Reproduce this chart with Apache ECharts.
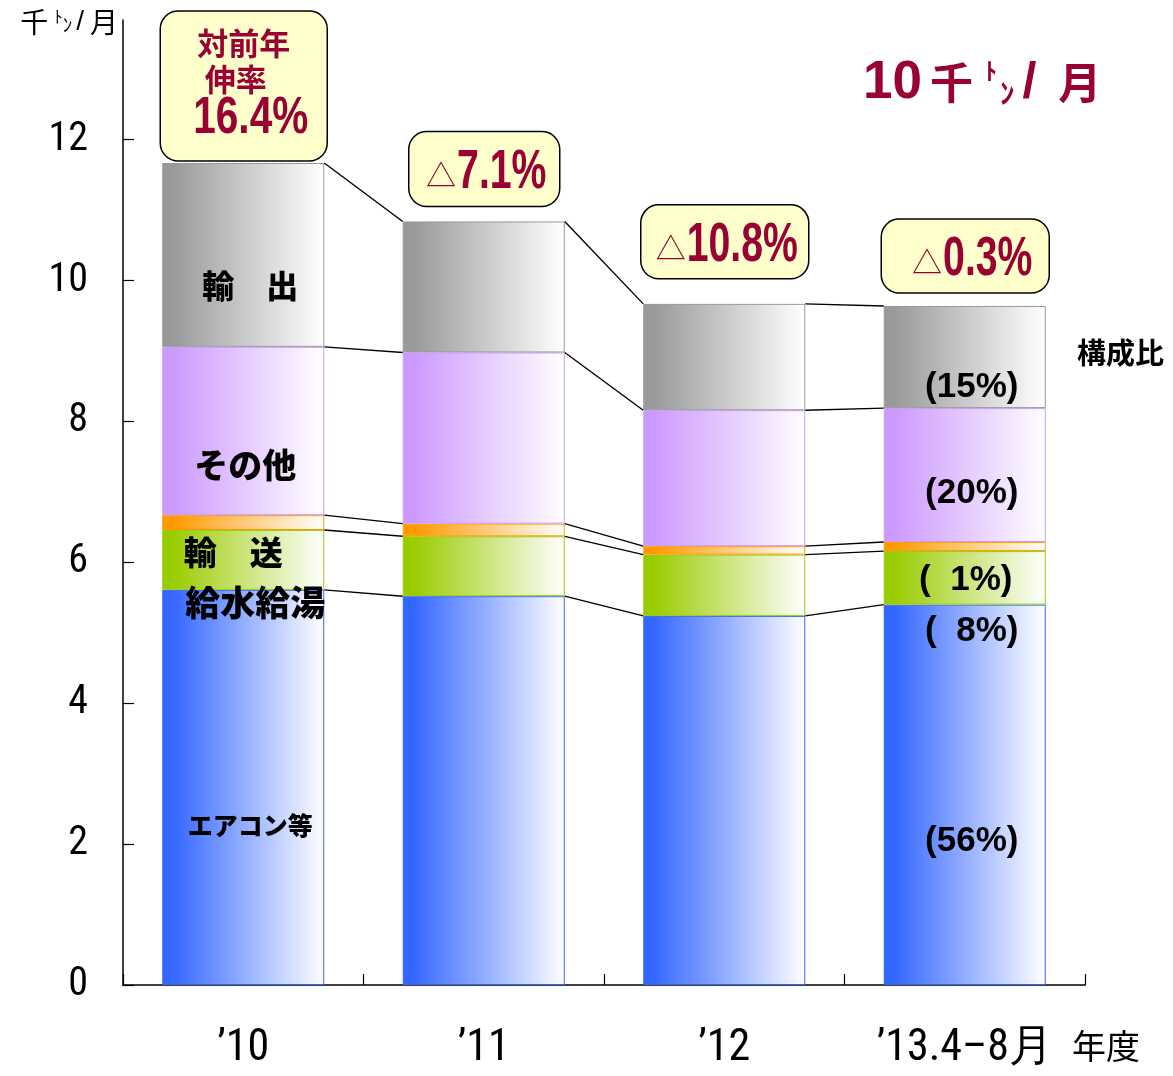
<!DOCTYPE html>
<html>
<head>
<meta charset="utf-8">
<script src="https://cdn.jsdelivr.net/npm/echarts@6/dist/echarts.min.js"></script>
<style>
  html, body { margin: 0; padding: 0; background: #ffffff; }
  #chart { width: 1173px; height: 1076px; }
</style>
</head>
<body>
<div id="chart"></div>
<script>
// Fiscal years on the category axis
const categories = ['’10', '’11', '’12', '’13.4–8月'];

// Monthly volume by use, thousand tonnes per month (stacked bottom to top)
const aircon      = [5.61, 5.52, 5.24, 5.40];   // エアコン等
const waterHeater = [0.85, 0.85, 0.87, 0.76];   // 給水給湯
const transport   = [0.21, 0.18, 0.12, 0.13];   // 輸送
const others      = [2.39, 2.43, 1.93, 1.90];   // その他
const exportsVol  = [2.61, 1.86, 1.51, 1.45];   // 輸出

// Year-on-year growth of the total, percent
const growthRates = [16.4, -7.1, -10.8, -0.3];

// Value axis ticks
const yTicks = [0, 2, 4, 6, 8, 10, 12];

const RED = '#990033';
const CJK = '"Noto Sans CJK JP", "Noto Sans CJK SC", sans-serif';
const NARROW = '"Roboto Condensed", "Liberation Sans Narrow", "DejaVu Sans Condensed", sans-serif';
const SANS = '"Liberation Sans", Arial, sans-serif';
const BAR_W = 162;

const stackSeries = [aircon, waterHeater, transport, others, exportsVol];
const totals = categories.map((_, i) => stackSeries.reduce((s, arr) => s + arr[i], 0));

function share(v, i) {
  const p = Math.round(v / totals[i] * 100);
  return '(' + (p < 10 ? '\u2007' : '') + p + '%)';
}

function grad(c) {
  return {
    type: 'linear', x: 0, y: 0, x2: 1, y2: 0,
    colorStops: [
      { offset: 0, color: c },
      { offset: 0.06, color: c },
      { offset: 1, color: '#ffffff' }
    ]
  };
}

const measureCtx = document.createElement('canvas').getContext('2d');
function textWidth(str, font) {
  measureCtx.font = font;
  return measureCtx.measureText(str).width;
}

// Name labels in the first bar and share labels in the last bar
const nameStyle = { show: true, position: 'inside', color: '#000', fontFamily: CJK, fontWeight: 900 };
const shareStyle = { show: true, position: 'inside', color: '#000', fontFamily: SANS, fontWeight: 'bold', fontSize: 35 };

function withLabels(values, first, last) {
  return values.map((v, i) => {
    if (i === 0 && first) return { value: v, label: Object.assign({}, nameStyle, first) };
    if (i === values.length - 1 && last) {
      return { value: v, label: Object.assign({}, shareStyle, { formatter: share(v, i) }, last) };
    }
    return v;
  });
}

function barSeries(name, data, color) {
  return {
    name: name,
    type: 'bar',
    stack: 'total',
    barWidth: BAR_W,
    data: data,
    itemStyle: { color: grad(color), borderColor: color, borderWidth: 1 },
    emphasis: { disabled: true },
    z: 2
  };
}

// Growth boxes: size of each box and its gap above the stack
const boxLayout = [
  { w: 167, h: 150, gap: 2, shift: 0 },
  { w: 151, h: 75, gap: 15, shift: 2 },
  { w: 168, h: 74, gap: 25, shift: 2 },
  { w: 168, h: 74, gap: 13, shift: 7 }
];
const growthData = categories.map((_, i) => [i, totals[i], growthRates[i]]);

// Connector lines between neighbouring stacks at every layer boundary
const levels = categories.map((_, i) => {
  let acc = 0;
  return stackSeries.map(arr => (acc += arr[i]));
});
const connectorData = [];
for (let i = 0; i < categories.length - 1; i++) {
  connectorData.push([i].concat(levels[i], levels[i + 1]));
}

const NUM_FONT_SIZE = 56;
const NUM_SCALE = 0.7;

function renderGrowthBox(params, api) {
  const i = api.value(0);
  const rate = api.value(2);
  const top = api.coord([i, api.value(1)]);
  const L = boxLayout[i];
  const cx = top[0] + 0.5;
  const by = top[1] - L.gap - L.h;
  const children = [{
    type: 'rect',
    shape: { x: cx - L.w / 2, y: by, width: L.w, height: L.h, r: 18 },
    style: { fill: '#ffffcc', stroke: '#000', lineWidth: 1.5 }
  }];
  if (rate >= 0) {
    const cjkFont = { fontFamily: CJK, fontWeight: 'bold', fontSize: 31, fill: RED, align: 'center', verticalAlign: 'middle' };
    children.push({ type: 'text', x: cx, y: by + 32, style: Object.assign({ text: '対前年' }, cjkFont) });
    children.push({ type: 'text', x: cx - 8, y: by + 68, style: Object.assign({ text: '伸率' }, cjkFont) });
    children.push({
      type: 'text', x: cx + 7, y: by + 108, scaleX: 0.78,
      style: { text: rate.toFixed(1) + '%', fontFamily: SANS, fontWeight: 'bold', fontSize: 52, fill: RED, align: 'center', verticalAlign: 'middle' }
    });
  } else {
    const num = Math.abs(rate).toFixed(1) + '%';
    const numW = textWidth(num, 'bold ' + NUM_FONT_SIZE + 'px "Liberation Sans"') * NUM_SCALE;
    const triW = 31;
    const left = cx + L.shift - (triW + numW) / 2;
    const cy = by + L.h / 2;
    children.push({
      type: 'text', x: left, y: cy + 6,
      style: { text: '△', fontFamily: CJK, fontSize: 30, fill: RED, align: 'left', verticalAlign: 'middle' }
    });
    children.push({
      type: 'text', x: left + triW, y: cy + 4, scaleX: NUM_SCALE,
      style: { text: num, fontFamily: SANS, fontWeight: 'bold', fontSize: NUM_FONT_SIZE, fill: RED, align: 'left', verticalAlign: 'middle' }
    });
  }
  return { type: 'group', children: children };
}

const option = {
  animation: false,
  backgroundColor: '#ffffff',
  title: {
    text: '{n|10}{k|千}{t|ﾄ}{u|ﾝ}{s|/}{m|月}',
    left: 858,
    top: 48,
    textStyle: {
      rich: {
        n: { fontFamily: SANS, fontWeight: 'bold', fontSize: 53, color: RED, lineHeight: 60, padding: [0, 8, 0, 0] },
        k: { fontFamily: CJK, fontWeight: 'bold', fontSize: 43, color: RED, lineHeight: 60, padding: [0, 12, 0, 0] },
        m: { fontFamily: CJK, fontWeight: 'bold', fontSize: 43, color: RED, lineHeight: 60 },
        t: { fontFamily: CJK, fontWeight: 'bold', fontSize: 24, color: RED, lineHeight: 60, verticalAlign: 'top', padding: [6, 3, 0, 0] },
        u: { fontFamily: CJK, fontWeight: 'bold', fontSize: 29, color: RED, lineHeight: 60, verticalAlign: 'bottom', padding: [0, 8, 6, 0] },
        s: { fontFamily: SANS, fontWeight: 'bold', fontSize: 50, color: RED, lineHeight: 60, padding: [0, 22, 0, 0] }
      }
    }
  },
  grid: { left: 123, right: 88, top: 20, bottom: 91, containLabel: false },
  xAxis: {
    type: 'category',
    data: categories,
    boundaryGap: true,
    name: '年度',
    nameLocation: 'end',
    nameGap: -13,
    nameTextStyle: { fontFamily: CJK, fontSize: 34, color: '#000', verticalAlign: 'top', align: 'left', padding: [44, 0, 0, 0] },
    axisLine: { lineStyle: { color: '#000', width: 1.5 } },
    axisTick: { show: true, inside: true, length: 11, lineStyle: { color: '#000', width: 1.2 } },
    axisLabel: { interval: 0, fontFamily: NARROW, fontSize: 44, color: '#000', margin: 42 },
    splitLine: { show: false }
  },
  yAxis: {
    type: 'value',
    min: 0,
    max: 13.7,
    interval: 2,
    name: '{m|千}{t|ﾄ}{u|ﾝ}{s|/}{m|月}',
    nameLocation: 'end',
    nameGap: -2,
    nameTextStyle: {
      align: 'right',
      verticalAlign: 'middle',
      padding: [0, 5, 0, 0],
      rich: {
        m: { fontFamily: CJK, fontSize: 28, color: '#000', lineHeight: 34 },
        t: { fontFamily: CJK, fontSize: 17, color: '#000', lineHeight: 34, verticalAlign: 'top', padding: [3, 0, 0, 6] },
        u: { fontFamily: CJK, fontSize: 19, color: '#000', lineHeight: 34, verticalAlign: 'bottom', padding: [0, 2, 5, 0] },
        s: { fontFamily: SANS, fontSize: 28, color: '#000', lineHeight: 34, padding: [0, 6, 0, 2] }
      }
    },
    axisLine: { show: true, lineStyle: { color: '#000', width: 1.5 } },
    axisTick: { show: true, inside: true, length: 11, customValues: yTicks, lineStyle: { color: '#000', width: 1.2 } },
    axisLabel: { fontFamily: NARROW, fontSize: 40, color: '#000', margin: 35, customValues: yTicks },
    splitLine: { show: false }
  },
  graphic: [
    {
      type: 'text',
      left: 1077,
      top: 338,
      style: { text: '構成比', fontFamily: CJK, fontWeight: 'bold', fontSize: 29, fill: '#000' }
    }
  ],
  series: [
    barSeries('エアコン等', withLabels(aircon,
      { formatter: 'エアコン等', fontSize: 25, offset: [7, 38] },
      { offset: [7, 47] }), '#3366ff'),
    barSeries('給水給湯', withLabels(waterHeater,
      { formatter: '給水給湯', fontSize: 35, offset: [12, 43] },
      { offset: [7, 53] }), '#99cc00'),
    barSeries('輸送', withLabels(transport,
      { formatter: '輸\u3000送', fontSize: 33, offset: [-10, 30] },
      { offset: [1, 34] }), '#ff9900'),
    barSeries('その他', withLabels(others,
      { formatter: 'その他', fontSize: 34, offset: [2, 34] },
      { offset: [7, 18] }), '#cc99ff'),
    barSeries('輸出', withLabels(exportsVol,
      { formatter: '輸\u3000出', fontSize: 32, offset: [7, 31] },
      { offset: [7, 30] }), '#999999'),
    {
      name: '伸率',
      type: 'custom',
      data: growthData,
      encode: { x: 0, y: 1 },
      z: 5,
      silent: true,
      renderItem: renderGrowthBox
    },
    {
      name: 'connectors',
      type: 'custom',
      data: connectorData,
      encode: { x: 0, y: [1, 2, 3, 4, 5] },
      z: 3,
      silent: true,
      renderItem: function (params, api) {
        const i = api.value(0);
        const n = stackSeries.length;
        const children = [];
        for (let k = 0; k < n; k++) {
          const a = api.coord([i, api.value(1 + k)]);
          const b = api.coord([i + 1, api.value(1 + n + k)]);
          children.push({
            type: 'line',
            shape: { x1: a[0] + BAR_W / 2, y1: a[1], x2: b[0] - BAR_W / 2, y2: b[1] },
            style: { stroke: '#000', lineWidth: 1.4 }
          });
        }
        return { type: 'group', children: children };
      }
    }
  ]
};

const chart = echarts.init(document.getElementById('chart'), null, { renderer: 'canvas' });
chart.setOption(option);
</script>
</body>
</html>
